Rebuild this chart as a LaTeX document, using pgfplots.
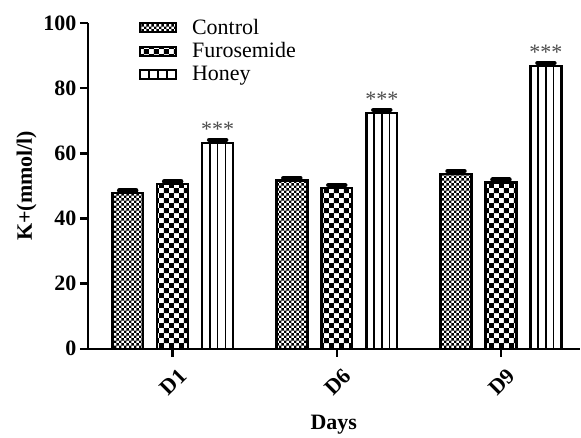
\documentclass[border=0pt]{standalone}
\usepackage{fontspec}
\setmainfont{Liberation Serif}
\usepackage{pgfplots}
\pgfplotsset{compat=1.18}
\usetikzlibrary{patterns}
\pgfdeclarepatternformonly{bigchecker}{\pgfpointorigin}{\pgfpoint{10pt}{10pt}}{\pgfpoint{10pt}{10pt}}{%
  \pgfpathrectangle{\pgfpointorigin}{\pgfpoint{5pt}{5pt}}%
  \pgfpathrectangle{\pgfpoint{5pt}{5pt}}{\pgfpoint{5pt}{5pt}}%
  \pgfusepath{fill}}
\pgfdeclarepatternformonly{smallchecker}{\pgfpointorigin}{\pgfpoint{5pt}{5pt}}{\pgfpoint{5pt}{5pt}}{%
  \pgfpathrectangle{\pgfpointorigin}{\pgfpoint{2.5pt}{2.5pt}}%
  \pgfpathrectangle{\pgfpoint{2.5pt}{2.5pt}}{\pgfpoint{2.5pt}{2.5pt}}%
  \pgfusepath{fill}}
\newcommand{\bigf}{\fontsize{22}{25}\selectfont}
\begin{document}
\begin{tikzpicture}
\path (-88pt,-82.5pt) rectangle (493pt,349.5pt);
\begin{axis}[
  at={(0,0)}, anchor=south west,
  scale only axis, width=493pt, height=326.5pt,
  xmin=-0.517, xmax=2.48, ymin=0, ymax=100,
  axis x line=bottom, axis y line=left,
  axis line style={line width=2.5pt, -},
  every outer x axis line/.append style={-},
  every outer y axis line/.append style={-},
  tick style={line width=2.5pt, black},
  major tick length=8pt, tick align=outside,
  xtick={0,1,2}, xticklabels={D1,D6,D9},
  xticklabel style={rotate=45, anchor=north east, inner sep=2pt, yshift=-9pt, xshift=-2pt},
  ytick={0,20,40,60,80,100},
  ticklabel style={font=\bfseries\bigf},
  /pgf/number format/assume math mode=true,
  xlabel={Days}, ylabel={K+(mmol/l)},
  label style={font=\bfseries\bigf},
  xlabel style={yshift=-12pt},
  legend style={font=\bigf, draw=none, fill=none, at={(rel axis cs:0.098,1.025)}, anchor=north west, row sep=3pt, column sep=13pt},
  legend cell align=left,
  error bars/y dir=plus, error bars/y explicit,
  error bars/error mark=|,
  error bars/error bar style={line width=2pt, black},
  error bars/error mark options={line width=4.5pt, mark size=8.5pt, line cap=round, black},
]
\addplot[ybar, bar width=0.188, bar shift=0pt, draw=black, line width=2.5pt, pattern=smallchecker, pattern color=black,
  legend image code/.code={\draw[line width=2pt, pattern=smallchecker, pattern color=black] (0pt,-4.5pt) rectangle (36pt,4.5pt);}]
  coordinates {(-0.274,47.8) +- (0,0.8) (0.726,51.6) +- (0,0.8) (1.726,53.7) +- (0,0.8)};
\addlegendentry{Control}
\addplot[ybar, bar width=0.188, bar shift=0pt, draw=black, line width=2.5pt, pattern=bigchecker, pattern color=black,
  legend image code/.code={\draw[line width=2pt, pattern=bigchecker, pattern color=black] (0pt,-4.5pt) rectangle (36pt,4.5pt);}]
  coordinates {(0,50.5) +- (0,0.9) (1,49.3) +- (0,0.9) (2,51.0) +- (0,0.9)};
\addlegendentry{Furosemide}
\addplot[ybar, bar width=0.188, bar shift=0pt, draw=black, line width=2.5pt, fill=white,
  nodes near coords={***},
  every node near coord/.append style={font=\bigf, text=black!70, yshift=2pt},
  legend image code/.code={\draw[line width=2pt, fill=white] (0pt,-4.5pt) rectangle (36pt,4.5pt);
    \draw[line width=1.5pt] (9pt,-4.5pt) -- (9pt,4.5pt) (18pt,-4.5pt) -- (18pt,4.5pt) (27pt,-4.5pt) -- (27pt,4.5pt);}]
  coordinates {(0.274,63.2) +- (0,0.9) (1.274,72.4) +- (0,0.9) (2.274,86.8) +- (0,0.9)};
\addlegendentry{Honey}
\addplot[ycomb, line width=1.5pt, black, no marks, forget plot]
  coordinates {(0.227,63.2) (0.274,63.2) (0.321,63.2)
               (1.227,72.4) (1.274,72.4) (1.321,72.4)
               (2.227,86.8) (2.274,86.8) (2.321,86.8)};
\end{axis}
\end{tikzpicture}
\end{document}
